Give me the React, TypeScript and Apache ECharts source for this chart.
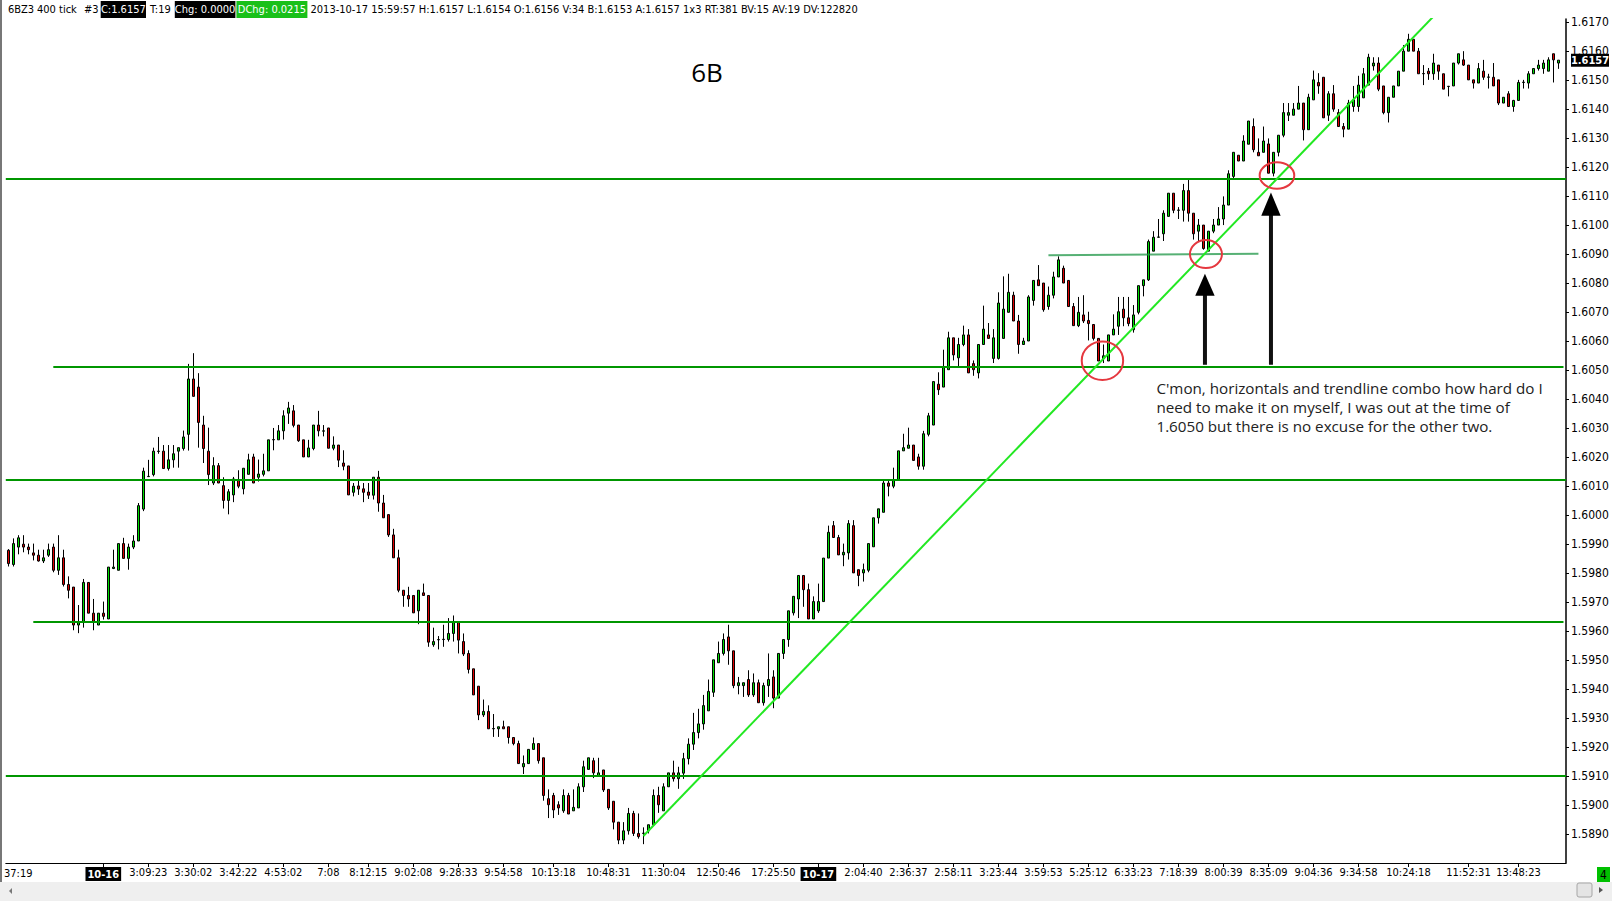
import React, { useEffect, useRef } from "react";
import * as echarts from "echarts";

// ---- candle data (311 bars, 400 tick, 6BZ3) ----
const openP = [
  1.59879, 1.59830, 1.59890, 1.59900, 1.59890, 1.59870, 1.59862, 1.59842, 1.59862, 1.59890,
  1.59810, 1.59853, 1.59761, 1.59752, 1.59621, 1.59633, 1.59768, 1.59662, 1.59621, 1.59662,
  1.59642, 1.59816, 1.59810, 1.59902, 1.59851, 1.59890, 1.59911, 1.60021, 1.60133, 1.60140,
  1.60220, 1.60221, 1.60161, 1.60191, 1.60221, 1.60230, 1.60279, 1.60470, 1.60442, 1.60311,
  1.60221, 1.60111, 1.60171, 1.60102, 1.60051, 1.60070, 1.60121, 1.60091, 1.60141, 1.60201,
  1.60131, 1.60141, 1.60153, 1.60260, 1.60260, 1.60291, 1.60352, 1.60360, 1.60311, 1.60260,
  1.60201, 1.60230, 1.60311, 1.60290, 1.60301, 1.60231, 1.60242, 1.60180, 1.60170, 1.60079,
  1.60101, 1.60091, 1.60080, 1.60069, 1.60131, 1.60042, 1.60002, 1.59932, 1.59853, 1.59741,
  1.59723, 1.59723, 1.59670, 1.59732, 1.59723, 1.59553, 1.59570, 1.59571, 1.59571, 1.59592,
  1.59633, 1.59564, 1.59523, 1.59470, 1.59410, 1.59311, 1.59323, 1.59263, 1.59263, 1.59270,
  1.59270, 1.59233, 1.59212, 1.59132, 1.59143, 1.59192, 1.59212, 1.59163, 1.59022, 1.59033,
  1.59001, 1.58980, 1.59033, 1.58980, 1.58990, 1.59063, 1.59123, 1.59153, 1.59102, 1.59121,
  1.59054, 1.59013, 1.58941, 1.58879, 1.58911, 1.58971, 1.58902, 1.58902, 1.58911, 1.58932,
  1.59033, 1.58980, 1.59063, 1.59111, 1.59091, 1.59110, 1.59160, 1.59210, 1.59250, 1.59280,
  1.59325, 1.59389, 1.59491, 1.59523, 1.59580, 1.59532, 1.59412, 1.59412, 1.59433, 1.59380,
  1.59422, 1.59353, 1.59412, 1.59442, 1.59369, 1.59523, 1.59571, 1.59663, 1.59711, 1.59792,
  1.59743, 1.59642, 1.59670, 1.59702, 1.59852, 1.59964, 1.59923, 1.59863, 1.59870, 1.59964,
  1.59812, 1.59801, 1.59810, 1.59891, 1.59991, 1.60010, 1.60111, 1.60100, 1.60123, 1.60222,
  1.60231, 1.60242, 1.60201, 1.60169, 1.60279, 1.60311, 1.60452, 1.60442, 1.60502, 1.60612,
  1.60543, 1.60589, 1.60622, 1.60523, 1.60491, 1.60589, 1.60622, 1.60541, 1.60541, 1.60610,
  1.60700, 1.60759, 1.60670, 1.60589, 1.60601, 1.60741, 1.60812, 1.60801, 1.60720, 1.60759,
  1.60822, 1.60852, 1.60810, 1.60720, 1.60654, 1.60691, 1.60672, 1.60658, 1.60610, 1.60540,
  1.60532, 1.60622, 1.60652, 1.60711, 1.60681, 1.60640, 1.60700, 1.60792, 1.60812, 1.60911,
  1.60959, 1.60971, 1.61031, 1.61111, 1.61052, 1.61052, 1.61120, 1.61042, 1.60980, 1.61001,
  1.60911, 1.60980, 1.61001, 1.61022, 1.61070, 1.61169, 1.61242, 1.61222, 1.61280, 1.61341,
  1.61252, 1.61252, 1.61281, 1.61180, 1.61252, 1.61311, 1.61380, 1.61380, 1.61401, 1.61422,
  1.61330, 1.61433, 1.61493, 1.61511, 1.61380, 1.61454, 1.61389, 1.61341, 1.61332, 1.61410,
  1.61410, 1.61440, 1.61484, 1.61550, 1.61560, 1.61481, 1.61389, 1.61442, 1.61481, 1.61532,
  1.61601, 1.61642, 1.61601, 1.61523, 1.61532, 1.61523, 1.61553, 1.61523, 1.61479, 1.61481,
  1.61560, 1.61571, 1.61553, 1.61502, 1.61491, 1.61532, 1.61511, 1.61511, 1.61502, 1.61422,
  1.61454, 1.61410, 1.61431, 1.61493, 1.61491, 1.61523, 1.61541, 1.61541, 1.61532, 1.61592, 1.61560,
];
const closeP = [
  1.59833, 1.59902, 1.59922, 1.59890, 1.59881, 1.59862, 1.59842, 1.59853, 1.59881, 1.59810,
  1.59853, 1.59761, 1.59741, 1.59621, 1.59633, 1.59768, 1.59662, 1.59633, 1.59662, 1.59651,
  1.59821, 1.59821, 1.59902, 1.59851, 1.59890, 1.59911, 1.60033, 1.60152, 1.60134, 1.60221,
  1.60221, 1.60161, 1.60191, 1.60212, 1.60233, 1.60270, 1.60470, 1.60410, 1.60320, 1.60230,
  1.60140, 1.60171, 1.60111, 1.60051, 1.60081, 1.60125, 1.60100, 1.60162, 1.60191, 1.60111,
  1.60142, 1.60153, 1.60260, 1.60261, 1.60291, 1.60343, 1.60370, 1.60310, 1.60257, 1.60201,
  1.60232, 1.60311, 1.60291, 1.60291, 1.60231, 1.60242, 1.60190, 1.60169, 1.60070, 1.60100,
  1.60090, 1.60079, 1.60069, 1.60131, 1.60042, 1.59991, 1.59932, 1.59853, 1.59741, 1.59723,
  1.59711, 1.59663, 1.59741, 1.59723, 1.59562, 1.59564, 1.59571, 1.59572, 1.59592, 1.59633,
  1.59569, 1.59521, 1.59468, 1.59380, 1.59311, 1.59323, 1.59263, 1.59264, 1.59270, 1.59263,
  1.59233, 1.59212, 1.59143, 1.59143, 1.59192, 1.59212, 1.59153, 1.59033, 1.59001, 1.58983,
  1.58990, 1.59033, 1.58969, 1.58992, 1.59063, 1.59132, 1.59163, 1.59111, 1.59111, 1.59052,
  1.58990, 1.58941, 1.58879, 1.58911, 1.58971, 1.58902, 1.58891, 1.58903, 1.58932, 1.59033,
  1.59001, 1.59063, 1.59111, 1.59091, 1.59111, 1.59160, 1.59210, 1.59250, 1.59280, 1.59343,
  1.59392, 1.59501, 1.59523, 1.59571, 1.59532, 1.59412, 1.59422, 1.59422, 1.59380, 1.59422,
  1.59353, 1.59412, 1.59433, 1.59369, 1.59523, 1.59571, 1.59670, 1.59720, 1.59792, 1.59743,
  1.59642, 1.59702, 1.59702, 1.59852, 1.59941, 1.59923, 1.59863, 1.59872, 1.59971, 1.59801,
  1.59792, 1.59812, 1.59902, 1.59991, 1.60022, 1.60111, 1.60100, 1.60123, 1.60222, 1.60233,
  1.60242, 1.60189, 1.60169, 1.60281, 1.60343, 1.60461, 1.60433, 1.60511, 1.60612, 1.60553,
  1.60589, 1.60622, 1.60491, 1.60502, 1.60589, 1.60642, 1.60610, 1.60612, 1.60732, 1.60711,
  1.60769, 1.60670, 1.60589, 1.60601, 1.60753, 1.60810, 1.60792, 1.60709, 1.60759, 1.60822,
  1.60881, 1.60801, 1.60720, 1.60654, 1.60700, 1.60670, 1.60661, 1.60610, 1.60532, 1.60550,
  1.60622, 1.60642, 1.60702, 1.60681, 1.60661, 1.60691, 1.60792, 1.60812, 1.60944, 1.60959,
  1.60960, 1.61042, 1.61111, 1.61052, 1.61053, 1.61120, 1.61042, 1.60971, 1.61001, 1.60920,
  1.60980, 1.61001, 1.61022, 1.61070, 1.61178, 1.61252, 1.61222, 1.61291, 1.61360, 1.61261,
  1.61240, 1.61291, 1.61180, 1.61252, 1.61311, 1.61389, 1.61389, 1.61401, 1.61422, 1.61330,
  1.61442, 1.61502, 1.61481, 1.61371, 1.61454, 1.61401, 1.61341, 1.61332, 1.61422, 1.61433,
  1.61484, 1.61523, 1.61580, 1.61560, 1.61470, 1.61389, 1.61442, 1.61481, 1.61532, 1.61601,
  1.61642, 1.61601, 1.61523, 1.61524, 1.61523, 1.61560, 1.61532, 1.61470, 1.61480, 1.61560,
  1.61592, 1.61553, 1.61502, 1.61491, 1.61541, 1.61511, 1.61512, 1.61481, 1.61422, 1.61442,
  1.61410, 1.61431, 1.61493, 1.61494, 1.61523, 1.61541, 1.61553, 1.61560, 1.61571, 1.61571, 1.61570,
];
const lowP = [
  1.59823, 1.59823, 1.59865, 1.59872, 1.59865, 1.59844, 1.59840, 1.59835, 1.59856, 1.59803,
  1.59794, 1.59754, 1.59713, 1.59603, 1.59593, 1.59612, 1.59662, 1.59603, 1.59621, 1.59640,
  1.59642, 1.59814, 1.59810, 1.59851, 1.59812, 1.59883, 1.59911, 1.60014, 1.60132, 1.60134,
  1.60212, 1.60161, 1.60154, 1.60164, 1.60164, 1.60223, 1.60223, 1.60410, 1.60233, 1.60180,
  1.60104, 1.60104, 1.60111, 1.60023, 1.60003, 1.60045, 1.60093, 1.60072, 1.60141, 1.60111,
  1.60116, 1.60134, 1.60153, 1.60224, 1.60260, 1.60261, 1.60315, 1.60303, 1.60253, 1.60201,
  1.60201, 1.60224, 1.60272, 1.60272, 1.60231, 1.60224, 1.60166, 1.60155, 1.60070, 1.60065,
  1.60070, 1.60045, 1.60056, 1.60054, 1.60012, 1.59991, 1.59925, 1.59853, 1.59734, 1.59684,
  1.59684, 1.59663, 1.59624, 1.59723, 1.59546, 1.59546, 1.59537, 1.59546, 1.59564, 1.59564,
  1.59523, 1.59514, 1.59454, 1.59380, 1.59293, 1.59304, 1.59263, 1.59235, 1.59235, 1.59263,
  1.59212, 1.59206, 1.59143, 1.59107, 1.59143, 1.59192, 1.59143, 1.59015, 1.58955, 1.58955,
  1.58966, 1.58973, 1.58969, 1.58980, 1.58990, 1.59045, 1.59123, 1.59093, 1.59102, 1.59045,
  1.58983, 1.58916, 1.58865, 1.58865, 1.58898, 1.58893, 1.58884, 1.58865, 1.58902, 1.58932,
  1.58973, 1.58980, 1.59063, 1.59081, 1.59056, 1.59090, 1.59140, 1.59190, 1.59230, 1.59260,
  1.59325, 1.59373, 1.59491, 1.59516, 1.59484, 1.59403, 1.59382, 1.59373, 1.59373, 1.59373,
  1.59353, 1.59343, 1.59373, 1.59334, 1.59369, 1.59504, 1.59546, 1.59654, 1.59645, 1.59684,
  1.59642, 1.59642, 1.59663, 1.59702, 1.59852, 1.59923, 1.59863, 1.59824, 1.59847, 1.59801,
  1.59755, 1.59771, 1.59803, 1.59891, 1.59971, 1.60010, 1.60065, 1.60093, 1.60123, 1.60222,
  1.60231, 1.60189, 1.60157, 1.60157, 1.60272, 1.60311, 1.60415, 1.60442, 1.60502, 1.60534,
  1.60514, 1.60583, 1.60491, 1.60481, 1.60472, 1.60589, 1.60610, 1.60525, 1.60537, 1.60610,
  1.60700, 1.60670, 1.60557, 1.60589, 1.60601, 1.60723, 1.60792, 1.60702, 1.60709, 1.60748,
  1.60822, 1.60801, 1.60720, 1.60654, 1.60649, 1.60663, 1.60603, 1.60603, 1.60532, 1.60525,
  1.60532, 1.60622, 1.60622, 1.60652, 1.60652, 1.60630, 1.60693, 1.60755, 1.60808, 1.60911,
  1.60958, 1.60946, 1.61031, 1.61042, 1.61022, 1.61013, 1.61013, 1.60951, 1.60946, 1.60916,
  1.60911, 1.60973, 1.61001, 1.61001, 1.61070, 1.61162, 1.61222, 1.61222, 1.61280, 1.61252,
  1.61240, 1.61252, 1.61180, 1.61169, 1.61238, 1.61304, 1.61360, 1.61380, 1.61401, 1.61293,
  1.61330, 1.61433, 1.61454, 1.61371, 1.61360, 1.61392, 1.61341, 1.61304, 1.61332, 1.61392,
  1.61392, 1.61440, 1.61484, 1.61534, 1.61463, 1.61383, 1.61355, 1.61442, 1.61481, 1.61532,
  1.61601, 1.61601, 1.61523, 1.61484, 1.61502, 1.61502, 1.61502, 1.61470, 1.61445, 1.61481,
  1.61555, 1.61550, 1.61502, 1.61472, 1.61491, 1.61502, 1.61472, 1.61481, 1.61415, 1.61422,
  1.61410, 1.61392, 1.61431, 1.61472, 1.61472, 1.61523, 1.61534, 1.61523, 1.61532, 1.61493, 1.61540,
];
const highP = [
  1.59883, 1.59920, 1.59931, 1.59931, 1.59902, 1.59902, 1.59881, 1.59881, 1.59902, 1.59902,
  1.59931, 1.59881, 1.59789, 1.59752, 1.59690, 1.59780, 1.59768, 1.59711, 1.59662, 1.59702,
  1.59821, 1.59881, 1.59902, 1.59922, 1.59902, 1.59931, 1.60042, 1.60164, 1.60191, 1.60233,
  1.60270, 1.60242, 1.60242, 1.60242, 1.60233, 1.60292, 1.60522, 1.60559, 1.60490, 1.60343,
  1.60302, 1.60200, 1.60180, 1.60131, 1.60090, 1.60132, 1.60155, 1.60162, 1.60212, 1.60212,
  1.60192, 1.60212, 1.60260, 1.60301, 1.60311, 1.60362, 1.60391, 1.60380, 1.60311, 1.60260,
  1.60260, 1.60311, 1.60360, 1.60311, 1.60301, 1.60272, 1.60242, 1.60224, 1.60170, 1.60111,
  1.60121, 1.60111, 1.60111, 1.60131, 1.60153, 1.60070, 1.60002, 1.59953, 1.59881, 1.59741,
  1.59753, 1.59723, 1.59741, 1.59764, 1.59723, 1.59612, 1.59583, 1.59622, 1.59645, 1.59654,
  1.59633, 1.59592, 1.59534, 1.59470, 1.59410, 1.59364, 1.59344, 1.59314, 1.59270, 1.59291,
  1.59270, 1.59233, 1.59222, 1.59171, 1.59192, 1.59233, 1.59212, 1.59163, 1.59054, 1.59042,
  1.59013, 1.59054, 1.59042, 1.59054, 1.59075, 1.59153, 1.59163, 1.59163, 1.59163, 1.59121,
  1.59054, 1.59013, 1.58941, 1.58941, 1.58990, 1.58980, 1.58971, 1.58923, 1.58932, 1.59054,
  1.59063, 1.59075, 1.59111, 1.59153, 1.59132, 1.59180, 1.59230, 1.59318, 1.59332, 1.59380,
  1.59433, 1.59501, 1.59564, 1.59592, 1.59622, 1.59532, 1.59442, 1.59422, 1.59465, 1.59454,
  1.59433, 1.59422, 1.59523, 1.59465, 1.59523, 1.59571, 1.59670, 1.59720, 1.59792, 1.59792,
  1.59764, 1.59720, 1.59764, 1.59852, 1.59964, 1.59980, 1.59932, 1.59902, 1.59983, 1.59983,
  1.59812, 1.59833, 1.59902, 1.59991, 1.60022, 1.60123, 1.60123, 1.60164, 1.60222, 1.60281,
  1.60302, 1.60242, 1.60212, 1.60291, 1.60353, 1.60461, 1.60493, 1.60571, 1.60633, 1.60612,
  1.60612, 1.60654, 1.60642, 1.60534, 1.60589, 1.60723, 1.60663, 1.60642, 1.60769, 1.60824,
  1.60833, 1.60771, 1.60691, 1.60612, 1.60759, 1.60810, 1.60863, 1.60801, 1.60789, 1.60840,
  1.60893, 1.60861, 1.60810, 1.60732, 1.60753, 1.60759, 1.60702, 1.60658, 1.60610, 1.60589,
  1.60622, 1.60693, 1.60753, 1.60753, 1.60753, 1.60725, 1.60792, 1.60812, 1.60951, 1.60980,
  1.61022, 1.61052, 1.61111, 1.61111, 1.61063, 1.61143, 1.61157, 1.61042, 1.61022, 1.61001,
  1.60980, 1.61022, 1.61063, 1.61100, 1.61190, 1.61252, 1.61242, 1.61311, 1.61360, 1.61369,
  1.61300, 1.61341, 1.61300, 1.61252, 1.61311, 1.61422, 1.61422, 1.61422, 1.61481, 1.61422,
  1.61454, 1.61534, 1.61525, 1.61511, 1.61463, 1.61484, 1.61401, 1.61353, 1.61433, 1.61481,
  1.61516, 1.61543, 1.61592, 1.61580, 1.61580, 1.61481, 1.61442, 1.61481, 1.61532, 1.61622,
  1.61661, 1.61642, 1.61612, 1.61553, 1.61543, 1.61592, 1.61553, 1.61523, 1.61480, 1.61560,
  1.61592, 1.61601, 1.61553, 1.61502, 1.61560, 1.61571, 1.61523, 1.61560, 1.61502, 1.61442,
  1.61463, 1.61433, 1.61502, 1.61502, 1.61532, 1.61541, 1.61571, 1.61571, 1.61580, 1.61592, 1.61570,
];

// ---- time axis ticks (bar index, label) ----
const tickIndex = [19, 28, 37, 46, 55, 64, 72, 81, 90, 99, 109, 120, 131, 142, 153, 162, 171, 180, 189, 198, 207, 216, 225, 234, 243, 252, 261, 270, 280, 292, 302];
const tickLabels = ["10-16", "3:09:23", "3:30:02", "3:42:22", "4:53:02", "7:08", "8:12:15", "9:02:08", "9:28:33", "9:54:58", "10:13:18", "10:48:31", "11:30:04", "12:50:46", "17:25:50", "10-17", "2:04:40", "2:36:37", "2:58:11", "3:23:44", "3:59:53", "5:25:12", "6:33:23", "7:18:39", "8:00:39", "8:35:09", "9:04:36", "9:34:58", "10:24:18", "11:52:31", "13:48:23"];
const dateLabels = ["10-16", "10-17"];

// ---- drawn levels ----
const levelPrices = [1.61160, 1.60512, 1.60123, 1.59634, 1.59100];
const levelStartBar = [null, 9, null, 5, null];
const shortLevel = [[208, 1.60897], [250, 1.60902]];
const trendLine = [[127, 1.58893], [285, 1.61721]];
const lastPrice = 1.6157;
const yMin = 1.588;
const yMax = 1.61712;
const yStep = 0.001;

// ---- annotations (bar index, price) ----
const circleCenters = [[218.8, 1.60533], [239.5, 1.60901], [253.7, 1.61172]];
const circleRadii = [[20.7, 19.3], [16, 14], [17.3, 13.3]];
const arrowBars = [239.3, 252.5];
const arrowTips = [1.60833, 1.61113];
const arrowBases = [1.60757, 1.61033];
const arrowTail = 1.60519;
const noteAnchor = [229.6, 1.60438];
const noteText = "C'mon, horizontals and trendline combo how hard do I\nneed to make it on myself, I was out at the time of\n1.6050 but there is no excuse for the other two.";

const NARROW = "'Liberation Sans Narrow', 'Arial Narrow', 'DejaVu Sans Condensed', sans-serif";

export default function App() {
  const ref = useRef<HTMLDivElement>(null);
  useEffect(() => {
    const chart = echarts.init(ref.current as HTMLDivElement, null, { renderer: "svg" });
    const N = openP.length + 1;
    const cats = Array.from({ length: N }, (_, i) => String(i));
    const labelMap = new Map<number, string>();
    tickIndex.forEach((t, k) => labelMap.set(t, tickLabels[k]));
    const candles = openP.map((o, i) => [o, closeP[i], lowP[i], highP[i]]);

    const lineData: any[] = levelPrices.map((p, k) =>
      levelStartBar[k] == null ? { yAxis: p } : [{ coord: [levelStartBar[k], p] }, { coord: [N - 1, p] }]
    );
    lineData.push([
      { coord: shortLevel[0], lineStyle: { color: "rgba(30,150,70,0.75)", width: 2 } },
      { coord: shortLevel[1] },
    ]);

    chart.setOption({
      animation: false,
      grid: { left: 5.8, right: 46, top: 19, bottom: 38, containLabel: false },
      xAxis: {
        type: "category",
        data: cats,
        boundaryGap: true,
        axisLine: { show: true, lineStyle: { color: "#000", width: 1 } },
        axisTick: {
          show: true,
          alignWithLabel: true,
          interval: (i: number) => labelMap.has(i),
          length: 4,
          lineStyle: { color: "#000" },
        },
        axisLabel: {
          interval: (i: number) => labelMap.has(i),
          formatter: (_v: string, i: number) => {
            const s = labelMap.get(i) || "";
            return dateLabels.includes(s) ? `{d|${s}}` : s;
          },
          color: "#000",
          fontFamily: NARROW,
          fontSize: 11,
          margin: 4,
          rich: {
            d: {
              backgroundColor: "#000",
              color: "#fff",
              padding: [2, 2, 1, 2],
              fontFamily: NARROW,
              fontSize: 11,
              fontWeight: "bold",
            },
          },
        },
        splitLine: { show: false },
      },
      yAxis: {
        type: "value",
        position: "right",
        min: yMin,
        max: yMax,
        interval: yStep,
        axisLine: { show: true, lineStyle: { color: "#000", width: 1.5 } },
        axisTick: { show: true, length: 3, lineStyle: { color: "#000" } },
        axisLabel: {
          color: "#000",
          fontFamily: NARROW,
          fontSize: 12,
          margin: 5,
          showMinLabel: false,
          showMaxLabel: false,
          formatter: (v: number) => v.toFixed(4),
        },
        splitLine: { show: false },
      },
      series: [
        {
          type: "candlestick",
          data: candles,
          barWidth: 3,
          itemStyle: {
            color: "#00dd00",
            color0: "#dd0000",
            borderColor: "#000",
            borderColor0: "#000",
            borderColorDoji: "#000",
            borderWidth: 1,
          },
          markLine: {
            silent: true,
            precision: 5,
            symbol: ["none", "none"],
            animation: false,
            label: { show: false },
            lineStyle: { color: "#009600", width: 2, type: "solid" },
            emphasis: { disabled: true },
            data: lineData,
          },
          z: 2,
        },
        {
          type: "line",
          data: trendLine,
          symbol: "none",
          silent: true,
          lineStyle: { color: "#22e822", width: 2 },
          z: 5,
        },
      ],
    });

    const x0 = chart.convertToPixel({ xAxisIndex: 0 }, 0) as number;
    const x1 = chart.convertToPixel({ xAxisIndex: 0 }, 1) as number;
    const px = (i: number) => x0 + (x1 - x0) * i;
    const py = (p: number) => chart.convertToPixel({ yAxisIndex: 0 }, p) as number;

    const g: any[] = [];
    // left window border
    g.push({ type: "rect", shape: { x: 0, y: 0, width: 2, height: 882 }, style: { fill: "#777" }, silent: true });
    // header
    const hdrY = 9.5;
    const hdrFont = { fontFamily: NARROW, fontSize: 11 };
    g.push({ type: "text", x: 8, y: hdrY, style: { text: "6BZ3", fill: "#000", ...hdrFont, verticalAlign: "middle" } });
    g.push({ type: "text", x: 37, y: hdrY, style: { text: "400 tick", fill: "#000", ...hdrFont, verticalAlign: "middle" } });
    g.push({ type: "text", x: 84, y: hdrY, style: { text: "#3", fill: "#000", ...hdrFont, verticalAlign: "middle" } });
    const boxes = [
      { x: 100.7, w: 45.3, t: "C:1.6157", bg: "#000" },
      { x: 174.8, w: 60.6, t: "Chg: 0.0000", bg: "#000" },
      { x: 236.4, w: 71, t: "DChg: 0.0215", bg: "#19c019" },
    ];
    boxes.forEach((b) => {
      g.push({ type: "rect", shape: { x: b.x, y: 1, width: b.w, height: 17 }, style: { fill: b.bg }, silent: true });
      g.push({ type: "text", x: b.x + b.w / 2, y: hdrY, style: { text: b.t, fill: "#fff", ...hdrFont, align: "center", verticalAlign: "middle" } });
    });
    g.push({ type: "text", x: 150, y: hdrY, style: { text: "T:19", fill: "#000", ...hdrFont, verticalAlign: "middle" } });
    g.push({
      type: "text",
      x: 310.5,
      y: hdrY,
      style: {
        text: "2013-10-17 15:59:57 H:1.6157 L:1.6154 O:1.6156 V:34 B:1.6153 A:1.6157 1x3 RT:381 BV:15 AV:19 DV:122820",
        fill: "#000",
        ...hdrFont,
        verticalAlign: "middle",
      },
    });
    // title
    g.push({ type: "text", x: 707, y: 72, style: { text: "6B", fill: "#000", fontFamily: "'Open Sans', 'Noto Sans', sans-serif", fontSize: 26, align: "center", verticalAlign: "middle" } });
    // clipped first time label
    g.push({ type: "text", x: 4, y: 873, style: { text: "37:19", fill: "#000", fontFamily: NARROW, fontSize: 11, verticalAlign: "middle" } });
    // last price tag on the price axis
    const lpY = py(lastPrice);
    g.push({ type: "rect", shape: { x: 1571, y: lpY - 6.5, width: 38, height: 13 }, style: { fill: "#000" }, z: 120, silent: true });
    g.push({ type: "text", x: 1590, y: lpY, z: 121, style: { text: lastPrice.toFixed(4), fill: "#fff", fontFamily: NARROW, fontSize: 11, fontWeight: "bold", align: "center", verticalAlign: "middle" } });
    // circles
    circleCenters.forEach((c, k) => {
      g.push({
        type: "ellipse",
        shape: { cx: px(c[0]), cy: py(c[1]), rx: circleRadii[k][0], ry: circleRadii[k][1] },
        style: { fill: "none", stroke: "#e5383f", lineWidth: 2 },
        z: 100,
        silent: true,
      });
    });
    // arrows
    arrowBars.forEach((b, k) => {
      const ax = px(b);
      const tipY = py(arrowTips[k]);
      const baseY = py(arrowBases[k]);
      const tailY = py(arrowTail);
      g.push({ type: "rect", shape: { x: ax - 2, y: baseY - 1, width: 4, height: tailY - baseY + 1 }, style: { fill: "#111" }, z: 100, silent: true });
      g.push({ type: "polygon", shape: { points: [[ax, tipY], [ax - 9.7, baseY], [ax + 9.7, baseY]] }, style: { fill: "#000" }, z: 100, silent: true });
    });
    // note
    g.push({
      type: "text",
      x: px(noteAnchor[0]),
      y: py(noteAnchor[1]) - 9.5,
      z: 100,
      style: {
        text: noteText,
        fill: "#222",
        fontFamily: "'Open Sans', 'Noto Sans', sans-serif",
        fontSize: 15.2,
        lineHeight: 19,
        verticalAlign: "top",
      },
    });
    // scrollbar
    g.push({ type: "rect", shape: { x: 0, y: 882, width: 1612, height: 19 }, style: { fill: "#efefef" }, silent: true });
    g.push({ type: "polygon", shape: { points: [[9, 891], [12, 888], [12, 894]] }, style: { fill: "#777" }, silent: true });
    g.push({ type: "rect", shape: { x: 1577, y: 883, width: 15, height: 14, r: 2 }, style: { fill: "#e4e4e4", stroke: "#a6a6a6", lineWidth: 1 }, silent: true });
    g.push({ type: "polygon", shape: { points: [[1599, 887], [1603, 890], [1599, 893]] }, style: { fill: "#555" }, silent: true });
    // green counter box
    g.push({ type: "rect", shape: { x: 1597, y: 867, width: 13, height: 15 }, style: { fill: "#00c000" }, silent: true });
    g.push({ type: "text", x: 1603.5, y: 874.5, style: { text: "4", fill: "#000", fontFamily: NARROW, fontSize: 12, align: "center", verticalAlign: "middle" } });

    chart.setOption({ graphic: { elements: g } });

    return () => chart.dispose();
  }, []);

  return (
    <div
      ref={ref}
      style={{ position: "fixed", left: 0, top: 0, width: 1612, height: 901, background: "#fff" }}
    />
  );
}
